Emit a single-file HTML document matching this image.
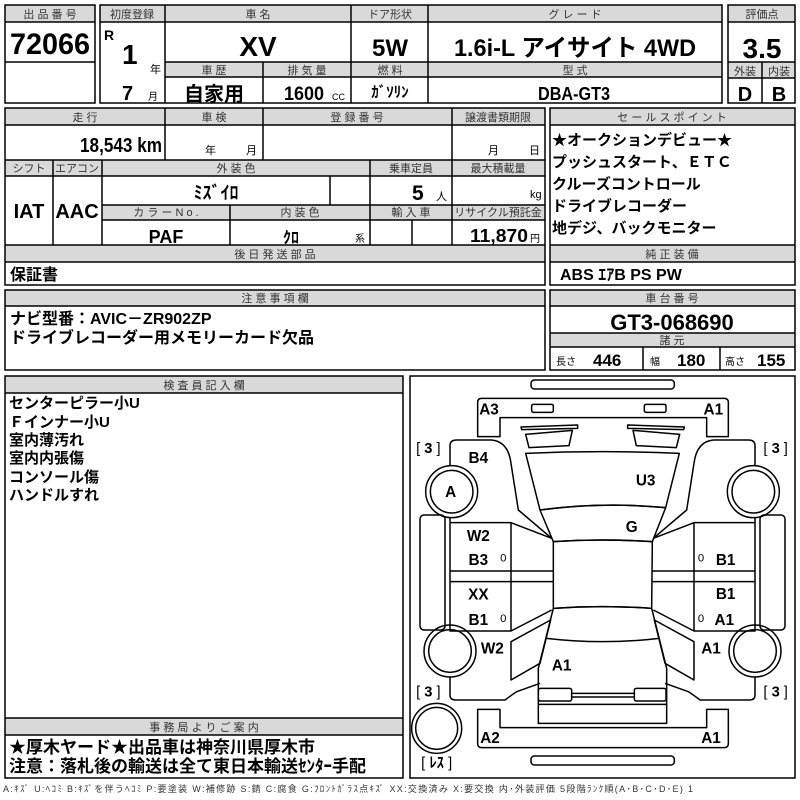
<!DOCTYPE html>
<html><head><meta charset="utf-8"><style>
html,body{margin:0;padding:0;background:#fff;}
svg{display:block;}
text{font-family:"Liberation Sans","Noto Sans CJK JP",sans-serif;}
.h{font-size:11px;text-anchor:middle;fill:#333;}
.b{font-weight:bold;fill:#000;}
.c{text-anchor:middle;}
</style></head><body>
<svg width="800" height="800" viewBox="0 0 800 800" xmlns="http://www.w3.org/2000/svg">
<g fill="#d9d9d9" stroke="none">
<rect x="5" y="5" width="90" height="17"/>
<rect x="100" y="5" width="622" height="17"/>
<rect x="165" y="62" width="557" height="15"/>
<rect x="728" y="5" width="67" height="17"/>
<rect x="728" y="62" width="67" height="16"/>
<rect x="5" y="108" width="540" height="17"/>
<rect x="5" y="160" width="540" height="16"/>
<rect x="102" y="205" width="443" height="15"/>
<rect x="5" y="245" width="540" height="17"/>
<rect x="550" y="108" width="245" height="17"/>
<rect x="550" y="245" width="245" height="17"/>
<rect x="5" y="290" width="540" height="16"/>
<rect x="550" y="290" width="245" height="16"/>
<rect x="550" y="333" width="245" height="14"/>
<rect x="5" y="376" width="398" height="17"/>
<rect x="5" y="718" width="398" height="17"/>
</g>
<g fill="none" stroke="#000" stroke-width="1.5">
<rect x="5" y="5" width="90" height="98"/>
<line x1="5" y1="22" x2="95" y2="22"/><line x1="5" y1="62" x2="95" y2="62"/>
<rect x="100" y="5" width="622" height="98"/>
<line x1="100" y1="22" x2="722" y2="22"/><line x1="165" y1="62" x2="722" y2="62"/><line x1="165" y1="77" x2="722" y2="77"/>
<line x1="165" y1="5" x2="165" y2="103"/><line x1="351" y1="5" x2="351" y2="103"/><line x1="428" y1="5" x2="428" y2="103"/><line x1="263" y1="62" x2="263" y2="103"/>
<rect x="728" y="5" width="67" height="98"/>
<line x1="728" y1="22" x2="795" y2="22"/><line x1="728" y1="62" x2="795" y2="62"/><line x1="728" y1="78" x2="795" y2="78"/><line x1="762" y1="62" x2="762" y2="103"/>

<rect x="5" y="108" width="540" height="177"/>
<line x1="5" y1="125" x2="545" y2="125"/><line x1="5" y1="160" x2="545" y2="160"/><line x1="5" y1="176" x2="545" y2="176"/>
<line x1="102" y1="205" x2="545" y2="205"/><line x1="102" y1="220" x2="545" y2="220"/>
<line x1="5" y1="245" x2="545" y2="245"/><line x1="5" y1="262" x2="545" y2="262"/>
<line x1="165" y1="108" x2="165" y2="160"/><line x1="263" y1="108" x2="263" y2="160"/><line x1="452" y1="108" x2="452" y2="245"/>
<line x1="53" y1="160" x2="53" y2="245"/><line x1="102" y1="160" x2="102" y2="245"/><line x1="370" y1="160" x2="370" y2="245"/>
<line x1="330" y1="176" x2="330" y2="205"/><line x1="230" y1="205" x2="230" y2="245"/><line x1="412" y1="220" x2="412" y2="245"/>
<rect x="550" y="108" width="245" height="177"/>
<line x1="550" y1="125" x2="795" y2="125"/><line x1="550" y1="245" x2="795" y2="245"/><line x1="550" y1="262" x2="795" y2="262"/>

<rect x="5" y="290" width="540" height="80"/><line x1="5" y1="306" x2="545" y2="306"/>
<rect x="550" y="290" width="245" height="80"/>
<line x1="550" y1="306" x2="795" y2="306"/><line x1="550" y1="333" x2="795" y2="333"/><line x1="550" y1="347" x2="795" y2="347"/>
<line x1="643" y1="347" x2="643" y2="370"/><line x1="720" y1="347" x2="720" y2="370"/>

<rect x="5" y="376" width="398" height="402"/>
<line x1="5" y1="393" x2="403" y2="393"/><line x1="5" y1="718" x2="403" y2="718"/><line x1="5" y1="735" x2="403" y2="735"/>
<rect x="410" y="376" width="385" height="402"/>
</g>

<text class="h" x="50" y="18">出 品 番 号</text>
<text class="b" x="10" y="54" font-size="30" textLength="80" lengthAdjust="spacingAndGlyphs">72066</text>
<text class="h" x="132" y="18">初度登録</text>
<text class="h" x="258" y="18">車 名</text>
<text class="h" x="390" y="18">ドア形状</text>
<text class="h" x="575" y="18">グ レ ー ド</text>
<text class="b" x="104" y="40" font-size="14">R</text>
<text class="b" x="122" y="64" font-size="28">1</text>
<text x="150" y="73" font-size="11">年</text>
<text class="b" x="122" y="100" font-size="20">7</text>
<text x="148" y="100" font-size="10">月</text>
<text class="b c" x="258" y="56" font-size="28">XV</text>
<text class="b c" x="390" y="56" font-size="24">5W</text>
<text class="b" x="454" y="56" font-size="24" textLength="242" lengthAdjust="spacingAndGlyphs">1.6i-L アイサイト 4WD</text>
<text class="h" x="214" y="74">車 歴</text>
<text class="h" x="307" y="74">排 気 量</text>
<text class="h" x="390" y="74">燃 料</text>
<text class="h" x="575" y="74">型 式</text>
<text class="b c" x="214" y="101" font-size="20">自家用</text>
<text class="b" x="284" y="100" font-size="19" textLength="40" lengthAdjust="spacingAndGlyphs">1600</text>
<text x="332" y="100" font-size="9">CC</text>
<text class="b c" x="390" y="97" font-size="15">ｶﾞｿﾘﾝ</text>
<text class="b" x="538" y="100" font-size="18" textLength="72" lengthAdjust="spacingAndGlyphs">DBA-GT3</text>
<text class="h" x="762" y="18">評価点</text>
<text class="b c" x="762" y="58" font-size="28">3.5</text>
<text class="h" x="745" y="75">外装</text>
<text class="h" x="779" y="75">内装</text>
<text class="b c" x="745" y="101" font-size="20">D</text>
<text class="b c" x="779" y="101" font-size="20">B</text>

<text class="h" x="85" y="121">走 行</text>
<text class="h" x="214" y="121">車 検</text>
<text class="h" x="357" y="121">登 録 番 号</text>
<text class="h" x="498" y="121">譲渡書類期限</text>
<text class="b" x="80" y="152" font-size="20" textLength="82" lengthAdjust="spacingAndGlyphs">18,543 km</text>
<text x="205" y="154" font-size="11">年</text><text x="246" y="154" font-size="11">月</text>
<text x="488" y="154" font-size="11">月</text><text x="529" y="154" font-size="11">日</text>
<text class="h" x="29" y="172">シフト</text>
<text class="h" x="77" y="172">エアコン</text>
<text class="h" x="236" y="172">外 装 色</text>
<text class="h" x="411" y="172">乗車定員</text>
<text class="h" x="498" y="172">最大積載量</text>
<text class="b c" x="216" y="199" font-size="18">ﾐｽﾞｲﾛ</text>
<text class="b" x="412" y="200" font-size="21">5</text>
<text x="436" y="200" font-size="11">人</text>
<text x="530" y="198" font-size="11">kg</text>
<text class="b c" x="29" y="218" font-size="20">IAT</text>
<text class="b c" x="77" y="218" font-size="20">AAC</text>
<text class="h" x="166" y="216">カ ラ ー  N o .</text>
<text class="h" x="300" y="216">内 装 色</text>
<text class="h" x="411" y="216">輸 入 車</text>
<text class="h" x="498" y="216" font-size="10">リサイクル預託金</text>
<text class="b c" x="166" y="243" font-size="18">PAF</text>
<text class="b c" x="291" y="243" font-size="16">ｸﾛ</text>
<text x="355" y="242" font-size="10">系</text>
<text class="b" x="470" y="242" font-size="18" textLength="58" lengthAdjust="spacingAndGlyphs">11,870</text>
<text x="530" y="242" font-size="10">円</text>
<text class="h" x="275" y="258">後 日 発 送 部 品</text>
<text class="b" x="10" y="280" font-size="16">保証書</text>
<text class="h" x="672" y="121">セ ー ル ス ポ イ ン ト</text>
<g class="b" font-size="15">
<text x="552" y="145">★オークションデビュー★</text>
<text x="552" y="167">プッシュスタート、ＥＴＣ</text>
<text x="552" y="189">クルーズコントロール</text>
<text x="552" y="211">ドライブレコーダー</text>
<text x="552" y="233">地デジ、バックモニター</text>
</g>
<text class="h" x="672" y="258">純 正 装 備</text>
<text class="b" x="560" y="280" font-size="16">ABS ｴｱB PS PW</text>

<text class="h" x="275" y="302">注 意 事 項 欄</text>
<text class="b" x="10" y="324" font-size="16">ナビ型番：AVIC－ZR902ZP</text>
<text class="b" x="10" y="343" font-size="16">ドライブレコーダー用メモリーカード欠品</text>
<text class="h" x="672" y="302">車 台 番 号</text>
<text class="b c" x="672" y="330" font-size="22">GT3-068690</text>
<text class="h" x="672" y="344">諸 元</text>
<text x="556" y="365" font-size="10">長さ</text>
<text class="b" x="593" y="366" font-size="17">446</text>
<text x="650" y="365" font-size="10">幅</text>
<text class="b" x="677" y="366" font-size="17">180</text>
<text x="725" y="365" font-size="10">高さ</text>
<text class="b" x="757" y="366" font-size="17">155</text>

<text class="h" x="204" y="389">検 査 員 記 入 欄</text>
<g class="b" font-size="15">
<text x="9" y="408">センターピラー小U</text>
<text x="9" y="427">Ｆインナー小U</text>
<text x="9" y="445">室内薄汚れ</text>
<text x="9" y="463">室内内張傷</text>
<text x="9" y="482">コンソール傷</text>
<text x="9" y="500">ハンドルすれ</text>
</g>
<text class="h" x="204" y="731">事 務 局 よ り ご 案 内</text>
<text class="b" x="9" y="753" font-size="17">★厚木ヤード★出品車は神奈川県厚木市</text>
<text class="b" x="9" y="772" font-size="17">注意：落札後の輸送は全て東日本輸送ｾﾝﾀｰ手配</text>
<text x="3" y="792" font-size="9" fill="#333" textLength="690" lengthAdjust="spacing">A:ｷｽﾞ  U:ﾍｺﾐ  B:ｷｽﾞを伴うﾍｺﾐ  P:要塗装  W:補修跡  S:錆  C:腐食  G:ﾌﾛﾝﾄｶﾞﾗｽ点ｷｽﾞ  XX:交換済み  X:要交換   内･外装評価   5段階ﾗﾝｸ順(A･B･C･D･E) 1</text>

<g transform="translate(405,375) scale(0.33333)">
<g fill="none" stroke="#000" stroke-width="4.5" stroke-linejoin="round">
<rect x="378" y="15" width="430" height="27" rx="10"/>
<path d="M218,185 L218,82 Q218,70 230,70 L958,70 Q970,70 970,82 L970,185 L905,185 L905,128 L285,128 L285,185 Z"/>
<rect x="380" y="88" width="65" height="24" rx="5"/>
<rect x="718" y="88" width="65" height="24" rx="5"/>
<path d="M348,156 L518,150 L518,160 L350,164 Z"/>
<path d="M838,156 L668,150 L668,160 L836,164 Z"/>
<path d="M362,178 L502,166 L492,212 L372,218 Z"/>
<path d="M824,178 L684,166 L694,212 L814,218 Z"/>
<path d="M362,235 Q593,225 823,235 L782,398 Q593,380 405,405 Z"/>
<path d="M405,405 Q593,380 782,398 L742,500 Q593,490 445,500 Z"/>
<path d="M445,500 Q593,490 742,500 L740,700 Q593,690 445,700 Z"/>
<path d="M445,700 Q593,690 740,700 L785,880 L785,1045 L400,1045 L400,880 Z"/>
<path d="M425,790 Q593,810 762,790"/>
<rect x="400" y="940" width="100" height="38" rx="6"/>
<rect x="688" y="940" width="95" height="38" rx="6"/>
<line x1="500" y1="955" x2="688" y2="955"/><line x1="500" y1="966" x2="688" y2="966"/>
<line x1="400" y1="988" x2="785" y2="988"/>
<path d="M218,1003 L285,1003 L285,1058 L905,1058 L905,1003 L970,1003 L970,1106 Q970,1118 958,1118 L230,1118 Q218,1118 218,1106 Z"/>
<rect x="378" y="1143" width="430" height="27" rx="10"/>
<circle cx="95" cy="1060" r="75"/><circle cx="95" cy="1060" r="63"/>
<g id="side">
<path d="M135,272 L135,212 Q135,195 155,195 L260,195 Q310,200 318,265 L340,405 L440,490"/>
<rect x="45" y="420" width="75" height="345" rx="12"/>
<circle cx="140" cy="350" r="78"/><circle cx="140" cy="350" r="64"/>
<circle cx="135" cy="828" r="78"/><circle cx="135" cy="828" r="64"/>
<path d="M135,428 L135,768 L318,768 L440,705"/>
<path d="M135,443 L318,443 L440,490"/>
<line x1="318" y1="443" x2="318" y2="768"/>
<line x1="135" y1="588" x2="445" y2="588"/>
<line x1="135" y1="620" x2="445" y2="620"/>
<path d="M318,800 L437,735 L405,865 L318,915 Z"/>
<path d="M135,905 L135,960 Q135,975 152,975 L300,975 Q320,960 335,950 L405,925"/>
</g>
<use href="#side" transform="translate(1185,0) scale(-1,1)"/>
</g>
<g font-weight="bold" font-size="46" text-anchor="middle" dominant-baseline="central" fill="#000">
<text x="252" y="105">A3</text><text x="925" y="105">A1</text>
<text x="220" y="250">B4</text><text x="137" y="352">A</text>
<text x="722" y="318">U3</text><text x="680" y="458">G</text>
<text x="220" y="484">W2</text><text x="220" y="557">B3</text>
<text x="220" y="660">XX</text><text x="220" y="737">B1</text>
<text x="262" y="822">W2</text><text x="470" y="873">A1</text>
<text x="962" y="557">B1</text><text x="962" y="658">B1</text>
<text x="958" y="737">A1</text><text x="918" y="822">A1</text>
<text x="255" y="1090">A2</text><text x="918" y="1090">A1</text>
</g>
<g font-size="34" text-anchor="middle" dominant-baseline="central" fill="#000">
<text x="295" y="550">0</text><text x="295" y="732">0</text>
<text x="888" y="550">0</text><text x="888" y="732">0</text>
</g>
<g font-size="44" text-anchor="middle" dominant-baseline="central" fill="#000">
<text x="70" y="222" xml:space="preserve">[ <tspan font-weight="bold">3</tspan> ]</text>
<text x="1112" y="222" xml:space="preserve">[ <tspan font-weight="bold">3</tspan> ]</text>
<text x="70" y="952" xml:space="preserve">[ <tspan font-weight="bold">3</tspan> ]</text>
<text x="1112" y="952" xml:space="preserve">[ <tspan font-weight="bold">3</tspan> ]</text>
<text x="95" y="1165" xml:space="preserve">[ <tspan font-weight="bold">ﾚｽ</tspan> ]</text>
</g>
</g>
</svg>
</body></html>
